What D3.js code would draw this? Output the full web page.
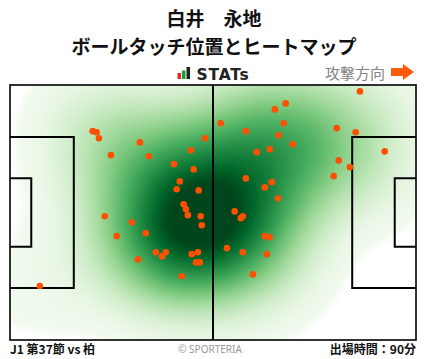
<!DOCTYPE html>
<html><head><meta charset="utf-8">
<script src="https://cdn.jsdelivr.net/npm/d3@7"></script>
<style>
html,body{margin:0;padding:0;background:#fff;}
svg{display:block;}
</style></head>
<body>
<svg id="chart" width="428" height="359"></svg>
<script>
// ---- data (pitch metres: x 0-105 attacking to the right, y 0-68 top to bottom)
const touchX = [21.4,22.4,23.0,26.1,33.6,35.9,42.4,46.8,50.4,47.5,43.9,43.1,48.8,44.9,45.5,46.0,49.3,49.6,24.5,31.5,27.6,35.1,37.7,39.3,40.3,33.1,47.0,48.6,48.1,49.1,44.4,7.7,54.5,61.0,68.5,71.3,70.8,69.5,73.1,67.2,63.8,61.0,67.7,65.9,69.3,58.1,60.2,59.7,65.9,67.2,56.1,60.2,66.4,62.8,90.5,84.5,89.4,96.9,85.0,87.9,83.7];
const touchY = [12.3,12.6,14.2,18.7,15.3,19.0,21.1,17.4,14.2,22.5,25.7,27.8,28.1,31.8,33.1,34.7,35.0,37.4,35.0,36.6,40.3,39.5,44.6,45.7,44.6,46.5,45.1,44.6,47.3,47.3,51.0,53.6,10.2,12.3,6.5,4.9,10.2,13.4,15.8,17.1,17.9,24.9,25.9,27.3,30.2,33.7,35.0,35.5,40.3,40.6,43.5,44.6,45.1,50.5,1.7,11.5,12.6,17.7,20.1,21.9,24.3];
const titleLines = ["白井　永地", "ボールタッチ位置とヒートマップ"];
const footerLeft = "J1 第37節 vs 柏";
const footerRight = "出場時間：90分";
const credit = "© SPORTERIA";
const directionLabel = "攻撃方向";

const points = touchX.map((v,i)=>({x:v,y:touchY[i]}));

const svg = d3.select("#chart");
const W = 428, H = 359;
const x = d3.scaleLinear().domain([0,105]).range([10,416]);
const y = d3.scaleLinear().domain([0,68]).range([85,340]);

const jp = "'Noto Sans CJK JP','Noto Sans',sans-serif";

// titles
svg.append("text").attr("x",214).attr("y",26).attr("text-anchor","middle")
  .attr("font-family",jp).attr("font-weight",700).attr("font-size",19).attr("fill","#111").text(titleLines[0]);
svg.append("text").attr("x",214).attr("y",53.5).attr("text-anchor","middle")
  .attr("font-family",jp).attr("font-weight",700).attr("font-size",19).attr("fill","#111").text(titleLines[1]);

// STATs logo
const logo = svg.append("g");
logo.append("rect").attr("x",177.5).attr("y",73).attr("width",3.5).attr("height",6).attr("fill","#e8262c");
logo.append("rect").attr("x",182).attr("y",70.5).attr("width",3.5).attr("height",8.5).attr("fill","#1a9e3a");
logo.append("rect").attr("x",186.5).attr("y",67).attr("width",3.5).attr("height",12).attr("fill","#222");
logo.append("text").attr("x",196.5).attr("y",79.5).attr("font-family","'DejaVu Sans',sans-serif")
  .attr("font-weight",700).attr("font-size",15.5).attr("letter-spacing",0.8).attr("fill","#222").text("STATs");

// direction
svg.append("text").attr("x",385).attr("y",78.5).attr("text-anchor","end")
  .attr("font-family",jp).attr("font-size",15).attr("fill","#858585").text(directionLabel);
svg.append("path").attr("d","M391,68 L403,68 L403,64 L414,72 L403,80 L403,76 L391,76 Z").attr("fill","#ff5a0a");

// clip
svg.append("clipPath").attr("id","pitchClip").append("rect")
  .attr("x",x(0)).attr("y",y(0)).attr("width",x(105)-x(0)).attr("height",y(68)-y(0));

const defs = svg.append("defs");
defs.append("filter").attr("id","blur").attr("x","-10%").attr("y","-10%").attr("width","120%").attr("height","120%")
  .append("feGaussianBlur").attr("stdDeviation",3);

// heatmap via KDE
const dens = d3.contourDensity().x(d=>x(d.x)).y(d=>y(d.y)).size([W,H]).cellSize(2).bandwidth(40);
let maxV;
if (dens.contours) { maxV = dens.contours(points).max; }
if (!maxV) { const c = dens.thresholds(200)(points); maxV = d3.max(c, d=>d.value); }
const nT = 90;
const thr = d3.range(nT).map(i => maxV*(0.03 + 0.97*i/nT));
const contours = dens.thresholds(thr)(points);
const color = d3.scaleSequential(d3.interpolateGreens).domain([0, maxV*0.9]);
const heat = svg.append("g").attr("clip-path","url(#pitchClip)").append("g").attr("filter","url(#blur)");
heat.selectAll("path").data(contours).join("path")
  .attr("d", d3.geoPath()).attr("fill", d=>color(d.value)).attr("stroke","none");

// pitch lines
const lines = svg.append("g").attr("fill","none").attr("stroke","#000");
lines.append("rect").attr("x",x(0)).attr("y",y(0)).attr("width",x(105)-x(0)).attr("height",y(68)-y(0)).attr("stroke-width",1.6);
lines.append("line").attr("x1",x(52.5)).attr("x2",x(52.5)).attr("y1",y(0)).attr("y2",y(68)).attr("stroke-width",2);
const pbTop = 34-20.16, pbBot = 34+20.16, gaTop = 34-9.16, gaBot = 34+9.16;
lines.append("path").attr("stroke-width",2)
  .attr("d",`M${x(0)},${y(pbTop)}H${x(16.5)}V${y(pbBot)}H${x(0)}`);
lines.append("path").attr("stroke-width",2)
  .attr("d",`M${x(0)},${y(gaTop)}H${x(5.5)}V${y(gaBot)}H${x(0)}`);
lines.append("path").attr("stroke-width",2)
  .attr("d",`M${x(105)},${y(pbTop)}H${x(105-16.5)}V${y(pbBot)}H${x(105)}`);
lines.append("path").attr("stroke-width",2)
  .attr("d",`M${x(105)},${y(gaTop)}H${x(105-5.5)}V${y(gaBot)}H${x(105)}`);

// touches
svg.append("g").selectAll("circle").data(points).join("circle")
  .attr("cx",d=>x(d.x)).attr("cy",d=>y(d.y)).attr("r",3.3).attr("fill","#ff4f00");

// footer
svg.append("text").attr("x",10).attr("y",354).attr("font-family",jp).attr("font-weight",700)
  .attr("font-size",12).attr("fill","#111").text(footerLeft);
svg.append("text").attr("x",210).attr("y",353).attr("text-anchor","middle").attr("font-family","'Noto Sans',sans-serif")
  .attr("font-size",10).attr("fill","#999").text(credit);
svg.append("text").attr("x",416).attr("y",354).attr("text-anchor","end").attr("font-family",jp).attr("font-weight",700)
  .attr("font-size",12).attr("fill","#111").text(footerRight);
</script>
</body></html>
